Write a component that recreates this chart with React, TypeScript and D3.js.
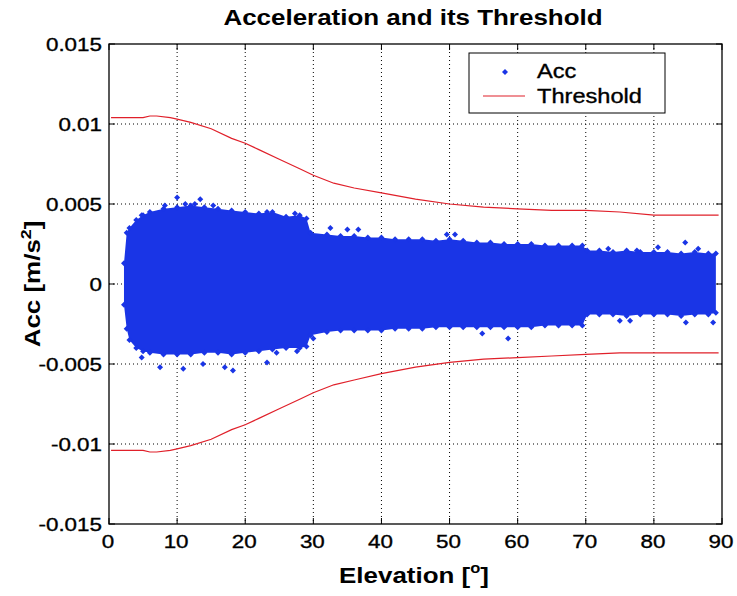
import React from 'react';
import * as d3 from 'd3';

const xTicks = [0, 10, 20, 30, 40, 50, 60, 70, 80, 90];
const yTicks = [-0.015, -0.01, -0.005, 0, 0.005, 0.01, 0.015];
const yTickLabels = ['-0.015', '-0.01', '-0.005', '0', '0.005', '0.01', '0.015'];

// Threshold curves
const thrElev = [0.3, 5, 6, 7, 9, 10, 12, 15, 18, 20, 22, 25, 28, 30, 33, 36, 40, 45, 50, 55, 60, 65, 70, 75, 80, 85, 89.5];
const thrUpper = [0.0104, 0.0104, 0.0105, 0.0105, 0.0104, 0.0103, 0.0101, 0.0097, 0.0091, 0.0088, 0.0084, 0.0078, 0.0072, 0.0068, 0.0063, 0.006, 0.0057, 0.0053, 0.005, 0.0048, 0.0047, 0.0046, 0.0046, 0.0045, 0.0043, 0.0043, 0.0043];
const thrLower = [-0.0104, -0.0104, -0.0105, -0.0105, -0.0104, -0.0103, -0.0101, -0.0097, -0.0091, -0.0088, -0.0084, -0.0078, -0.0072, -0.0068, -0.0063, -0.006, -0.0056, -0.0052, -0.0049, -0.0047, -0.0046, -0.0045, -0.0044, -0.0043, -0.0043, -0.0043, -0.0043];

// Envelope of the dense Acc scatter cloud
const envElev = [2.2, 2.6, 3, 4, 5, 6, 8, 10, 12, 14, 16, 18, 20, 22, 24, 26, 28, 29, 29.6, 32, 34, 36, 38, 40, 42, 44, 46, 48, 50, 52, 54, 56, 58, 60, 62, 64, 66, 68, 69.5, 70.2, 72, 74, 76, 78, 80, 82, 84, 86, 88, 89.1];
const envUpper = [0.0013, 0.0032, 0.0035, 0.004, 0.0043, 0.0045, 0.0047, 0.0048, 0.0049, 0.0048, 0.0047, 0.0046, 0.0045, 0.0044, 0.0045, 0.0042, 0.0043, 0.0041, 0.0032, 0.0031, 0.003, 0.003, 0.0029, 0.0029, 0.0028, 0.0028, 0.0028, 0.0027, 0.0028, 0.0027, 0.0026, 0.0026, 0.0025, 0.0025, 0.0025, 0.0024, 0.0024, 0.0024, 0.0024, 0.0021, 0.0021, 0.002, 0.0021, 0.002, 0.002, 0.002, 0.0019, 0.002, 0.0019, 0.0019];
const envLower = [-0.0013, -0.0028, -0.0035, -0.004, -0.0042, -0.0043, -0.0044, -0.0044, -0.0044, -0.0043, -0.0043, -0.0044, -0.0043, -0.0042, -0.0041, -0.004, -0.004, -0.0039, -0.0032, -0.003, -0.0029, -0.0029, -0.0029, -0.0029, -0.0028, -0.0028, -0.0028, -0.0027, -0.0027, -0.0027, -0.0027, -0.0027, -0.0027, -0.0027, -0.0027, -0.0026, -0.0026, -0.0026, -0.0026, -0.0019, -0.0019, -0.0019, -0.002, -0.0019, -0.0019, -0.0019, -0.002, -0.0019, -0.0019, -0.0018];

// Outlying Acc samples
const outElev = [10, 13.4, 8.2, 4.8, 11.2, 12.6, 15.3, 23.2, 27.3, 32.5, 35, 36.6, 49.6, 50.8, 73.3, 77.5, 80.6, 84.6, 86.5,
  4.8, 7.5, 10.9, 13.8, 17, 18.2, 23.2, 24.6, 27.6, 30, 54.8, 58.6, 75, 76.5, 84.7, 88.7];
const outAcc = [0.0054, 0.0053, 0.0049, 0.0043, 0.005, 0.005, 0.0049, 0.0045, 0.0044, 0.0035, 0.0034, 0.0034, 0.0031, 0.0031, 0.0022, 0.0021, 0.0023, 0.0026, 0.0022,
  -0.0046, -0.0052, -0.0053, -0.005, -0.0052, -0.0054, -0.0049, -0.0043, -0.0042, -0.0034, -0.0031, -0.0034, -0.0023, -0.0023, -0.0024, -0.0024];

const W = 737;
const H = 596;
const left = 109, right = 722, top = 44, bottom = 524;
const BLUE = '#1a35e6';
const RED = '#e0202a';
const FONT = 'Liberation Sans, Arial, sans-serif';
const SX = 1.18;

function T(props: { x: number; y: number; size: number; bold?: boolean; anchor?: string; rotate?: number; children: any }) {
  const { x, y, size, bold, anchor, rotate, children } = props;
  return (
    <g transform={`translate(${x},${y})${rotate ? ` rotate(${rotate})` : ''} scale(${SX},1)`}>
      <text x={0} y={0} fontSize={size} fontWeight={bold ? 'bold' : 'normal'} textAnchor={anchor || 'start'} fill="#000"
        stroke={bold ? 'none' : '#000'} strokeWidth={bold ? 0 : 0.35}>
        {children}
      </text>
    </g>
  );
}

export default function App() {
  const x = d3.scaleLinear().domain([0, 90]).range([left, right]);
  const y = d3.scaleLinear().domain([-0.015, 0.015]).range([bottom, top]);

  const env = envElev.map((e, i) => ({ e, u: envUpper[i], l: envLower[i] }));
  const area = d3.area<any>().x(d => x(d.e)).y0(d => y(d.l)).y1(d => y(d.u)).curve(d3.curveLinear);
  const lineU = d3.line<number>().x((_, i) => x(thrElev[i])).y(d => y(d));
  const diamond = d3.symbol().type(d3.symbolSquare).size(18)() as string;

  const tickLen = 6;
  return (
    <svg width={W} height={H} style={{ position: 'absolute', left: 0, top: 0, background: '#fff' }} fontFamily={FONT}>
      <rect x={0} y={0} width={W} height={H} fill="#fff" />
      {/* grid */}
      {xTicks.slice(1, -1).map(t => (
        <line key={'gx' + t} x1={x(t)} x2={x(t)} y1={top} y2={bottom} stroke="#000" strokeWidth={1} strokeDasharray="1,3" />
      ))}
      {yTicks.slice(1, -1).map(t => (
        <line key={'gy' + t} x1={left} x2={right} y1={y(t)} y2={y(t)} stroke="#000" strokeWidth={1} strokeDasharray="1,3" />
      ))}
      {/* scatter cloud */}
      <path d={area(env) as string} fill={BLUE} />
      {env.map((d, i) => (
        <g key={'eu' + i}>
          <path d={diamond} transform={`translate(${x(d.e)},${y(d.u)}) rotate(45)`} fill={BLUE} />
          <path d={diamond} transform={`translate(${x(d.e)},${y(d.l)}) rotate(45)`} fill={BLUE} />
        </g>
      ))}
      {outElev.map((e, i) => (
        <path key={'o' + i} d={diamond} transform={`translate(${x(e)},${y(outAcc[i])}) rotate(45)`} fill={BLUE} />
      ))}
      {/* thresholds */}
      <path d={lineU(thrUpper) as string} fill="none" stroke={RED} strokeWidth={1.2} />
      <path d={lineU(thrLower) as string} fill="none" stroke={RED} strokeWidth={1.2} />
      {/* box */}
      <rect x={left} y={top} width={right - left} height={bottom - top} fill="none" stroke="#000" strokeWidth={1.3} />
      {/* ticks */}
      {xTicks.map(t => (
        <g key={'tx' + t}>
          <line x1={x(t)} x2={x(t)} y1={bottom} y2={bottom - tickLen} stroke="#000" />
          <line x1={x(t)} x2={x(t)} y1={top} y2={top + tickLen} stroke="#000" />
          <T x={x(t) - 1} y={548} size={19} anchor="middle">{t}</T>
        </g>
      ))}
      {yTicks.map((t, i) => (
        <g key={'ty' + t}>
          <line x1={left} x2={left + tickLen} y1={y(t)} y2={y(t)} stroke="#000" />
          <line x1={right} x2={right - tickLen} y1={y(t)} y2={y(t)} stroke="#000" />
          <T x={102} y={y(t) + 7} size={19} anchor="end">{yTickLabels[i]}</T>
        </g>
      ))}
      {/* title and labels */}
      <T x={413} y={25} size={22} bold anchor="middle">Acceleration and its Threshold</T>
      <T x={414} y={583} size={22} bold anchor="middle">
        Elevation [<tspan fontSize={14} dy={-10}>o</tspan><tspan dy={10}>]</tspan>
      </T>
      <T x={40} y={(top + bottom) / 2} size={22} bold anchor="middle" rotate={-90}>
        Acc [m/s<tspan fontSize={15} dy={-9}>2</tspan><tspan dy={9}>]</tspan>
      </T>
      {/* legend */}
      <rect x={469} y={53} width={196} height={60} fill="#fff" stroke="#000" strokeWidth={1} />
      <path d={diamond} transform="translate(505,72) rotate(45)" fill={BLUE} />
      <T x={537} y={78} size={20}>Acc</T>
      <line x1={483} x2={525} y1={96} y2={96} stroke={RED} strokeWidth={1.2} />
      <T x={537} y={103} size={20}>Threshold</T>
    </svg>
  );
}
